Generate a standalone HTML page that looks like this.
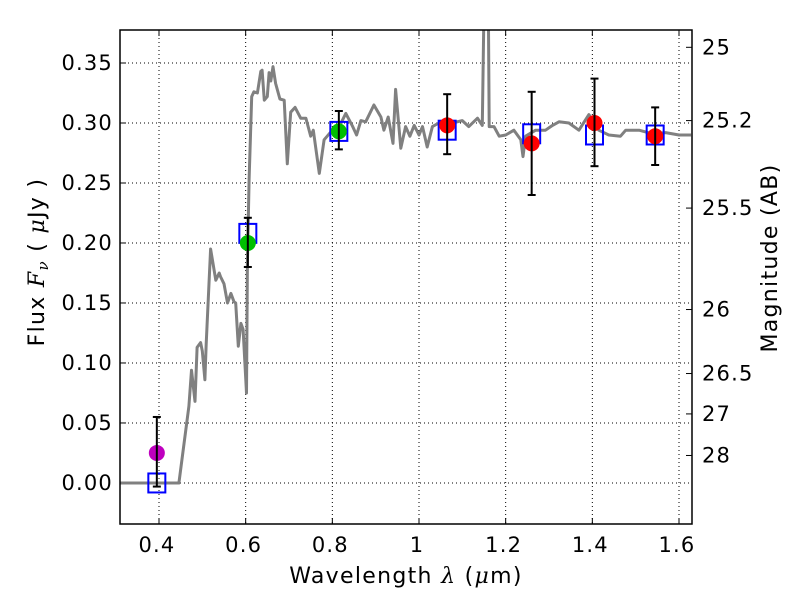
<!DOCTYPE html>
<html><head><meta charset="utf-8"><style>
body{margin:0;background:#fff;width:800px;height:600px;overflow:hidden}
svg text{font-family:"DejaVu Sans","Liberation Sans",sans-serif;font-size:21px;letter-spacing:1.2px;fill:#000}
svg text.title{font-size:22px;letter-spacing:1.3px}
</style></head><body>
<svg id="chart" width="800" height="600" xmlns="http://www.w3.org/2000/svg"></svg>
<script>
const xTicks=[0.4,0.6,0.8,1.0,1.2,1.4,1.6];
const xTickLabels=["0.4","0.6","0.8","1","1.2","1.4","1.6"];
const yTicks=[0,0.05,0.1,0.15,0.2,0.25,0.3,0.35];
const yTickLabels=["0.00","0.05","0.10","0.15","0.20","0.25","0.30","0.35"];
const magTicks=[25,25.2,25.5,26,26.5,27,28];
const magLabels=["25","25.2","25.5","26","26.5","27","28"];
const specWave=[0.31,0.446,0.469,0.475,0.483,0.488,0.496,0.5,0.506,0.509,0.519,0.531,0.539,0.542,0.55,0.558,0.566,0.573,0.577,0.583,0.589,0.594,0.602,0.604,0.608,0.614,0.619,0.627,0.635,0.638,0.643,0.65,0.654,0.658,0.663,0.669,0.679,0.689,0.696,0.704,0.714,0.727,0.739,0.75,0.756,0.77,0.781,0.8,0.812,0.831,0.847,0.856,0.866,0.877,0.896,0.912,0.919,0.929,0.94,0.946,0.958,0.969,0.979,0.989,1.0,1.008,1.019,1.031,1.046,1.077,1.1,1.115,1.135,1.146,1.152,1.159,1.162,1.173,1.185,1.2,1.219,1.235,1.24,1.246,1.269,1.292,1.308,1.323,1.346,1.369,1.392,1.415,1.438,1.465,1.477,1.508,1.539,1.569,1.6,1.628];
const specFlux=[0,0,0.064,0.094,0.068,0.113,0.117,0.11,0.086,0.116,0.195,0.169,0.175,0.172,0.166,0.15,0.158,0.151,0.15,0.114,0.133,0.128,0.075,0.183,0.253,0.322,0.326,0.325,0.343,0.344,0.319,0.322,0.342,0.335,0.347,0.333,0.32,0.319,0.266,0.309,0.313,0.304,0.304,0.289,0.294,0.258,0.286,0.294,0.294,0.308,0.297,0.29,0.302,0.301,0.315,0.305,0.294,0.305,0.283,0.328,0.279,0.297,0.289,0.298,0.29,0.297,0.28,0.297,0.3,0.3,0.302,0.297,0.304,0.298,0.45,0.45,0.297,0.297,0.289,0.29,0.294,0.286,0.272,0.289,0.294,0.294,0.298,0.301,0.3,0.294,0.307,0.294,0.29,0.289,0.294,0.294,0.291,0.292,0.29,0.29];
const obsWave=[0.395,0.605,0.815,1.065,1.26,1.405,1.545];
const obsFlux=[0.025,0.200,0.293,0.298,0.283,0.300,0.289];
const obsLo=[-0.003,0.180,0.278,0.274,0.240,0.264,0.265];
const obsHi=[0.055,0.221,0.310,0.324,0.326,0.337,0.313];
const obsColor=["#bf00bf","#00bf00","#00bf00","#ff0000","#ff0000","#ff0000","#ff0000"];
const modelFlux=[0.0,0.208,0.293,0.294,0.291,0.290,0.290];

const L=120,R=692,T=30,B=524;
const xmin=0.3100,xmax=1.630,ymin=-0.0342,ymax=0.3775;
const X=v=>L+(v-xmin)/(xmax-xmin)*(R-L);
const Y=v=>B-(v-ymin)/(ymax-ymin)*(B-T);
const svg=document.getElementById('chart');
const NS="http://www.w3.org/2000/svg";
function mk(tag,attrs,parent){const e=document.createElementNS(NS,tag);for(const k in attrs)e.setAttribute(k,attrs[k]);(parent||svg).appendChild(e);return e;}
const clip=mk('clipPath',{id:'pc'});mk('rect',{x:L,y:T,width:R-L,height:B-T},clip);

const grid=mk('g',{});


xTicks.forEach((v,i)=>{
  mk('line',{x1:X(v),x2:X(v),y1:T,y2:B,stroke:'#000','stroke-width':1,'stroke-dasharray':'1,3'},grid);
  mk('line',{x1:X(v),x2:X(v),y1:B,y2:B-6,stroke:'#000'},grid);
  mk('line',{x1:X(v),x2:X(v),y1:T,y2:T+6,stroke:'#000'},grid);
  const t=mk('text',{x:X(v)-2,y:B+28,'text-anchor':'middle'});t.textContent=xTickLabels[i];
  
  
});
yTicks.forEach((v,i)=>{
  mk('line',{x1:L,x2:L+6,y1:Y(v),y2:Y(v),stroke:'#000'},grid);
  mk('line',{x1:L,x2:R,y1:Y(v),y2:Y(v),stroke:'#000','stroke-width':1,'stroke-dasharray':'1,3'},grid);
  const t=mk('text',{x:L-7,y:Y(v)+7,'text-anchor':'end'});t.textContent=yTickLabels[i];
  
  
});
magTicks.forEach((m,i)=>{
  const f=Math.pow(10,(23.9-m)/2.5);
  mk('line',{x1:R,x2:R-6,y1:Y(f),y2:Y(f),stroke:'#000'});
  const t=mk('text',{x:R+10,y:Y(f)+7,'text-anchor':'start'});t.textContent=magLabels[i];
  
  
});

let d='';
specWave.forEach((w,i)=>{d+=(i?'L':'M')+X(w).toFixed(1)+','+Y(specFlux[i]).toFixed(1);});
const sp=mk('path',{d:d,fill:'none',stroke:'#808080','stroke-width':3,'clip-path':'url(#pc)','stroke-linejoin':'round'});



obsWave.forEach((w,i)=>{
  const g=mk('g',{});
  
  
  const sq=mk('rect',{x:X(w)-8.5,y:Y(modelFlux[i])-9.5,width:17,height:19,fill:'none',stroke:'#0000ff','stroke-width':2},g);
  
  
  const c=mk('circle',{cx:X(w),cy:Y(obsFlux[i]),r:8,fill:obsColor[i]},g);
  
  
  mk('line',{x1:X(w),x2:X(w),y1:Y(obsLo[i]),y2:Y(obsHi[i]),stroke:'#000','stroke-width':2},g);
  mk('line',{x1:X(w)-4,x2:X(w)+4,y1:Y(obsLo[i]),y2:Y(obsLo[i]),stroke:'#000','stroke-width':2},g);
  mk('line',{x1:X(w)-4,x2:X(w)+4,y1:Y(obsHi[i]),y2:Y(obsHi[i]),stroke:'#000','stroke-width':2},g);
});

const fr=mk('rect',{x:L,y:T,width:R-L,height:B-T,fill:'none',stroke:'#000','stroke-width':1.5});



const xl=mk('text',{x:406,y:583,'text-anchor':'middle','class':'title'});
xl.innerHTML='Wavelength  <tspan font-style="italic" font-family="DejaVu Serif, serif">λ</tspan> (<tspan font-style="italic" font-family="DejaVu Serif, serif">μ</tspan>m)';


const yl=mk('text',{x:0,y:0,'text-anchor':'middle','class':'title',transform:'translate(44,262) rotate(-90)'});
yl.innerHTML='Flux  <tspan font-style="italic" font-family="DejaVu Serif, serif">F<tspan font-size="15" dy="4">ν</tspan></tspan><tspan dy="-4">  ( </tspan><tspan font-style="italic" font-family="DejaVu Serif, serif">μ</tspan>Jy )';


const rl=mk('text',{x:0,y:0,'text-anchor':'middle','class':'title',transform:'translate(777,258) rotate(-90)'});
rl.textContent='Magnitude (AB)';


</script>
</body></html>
